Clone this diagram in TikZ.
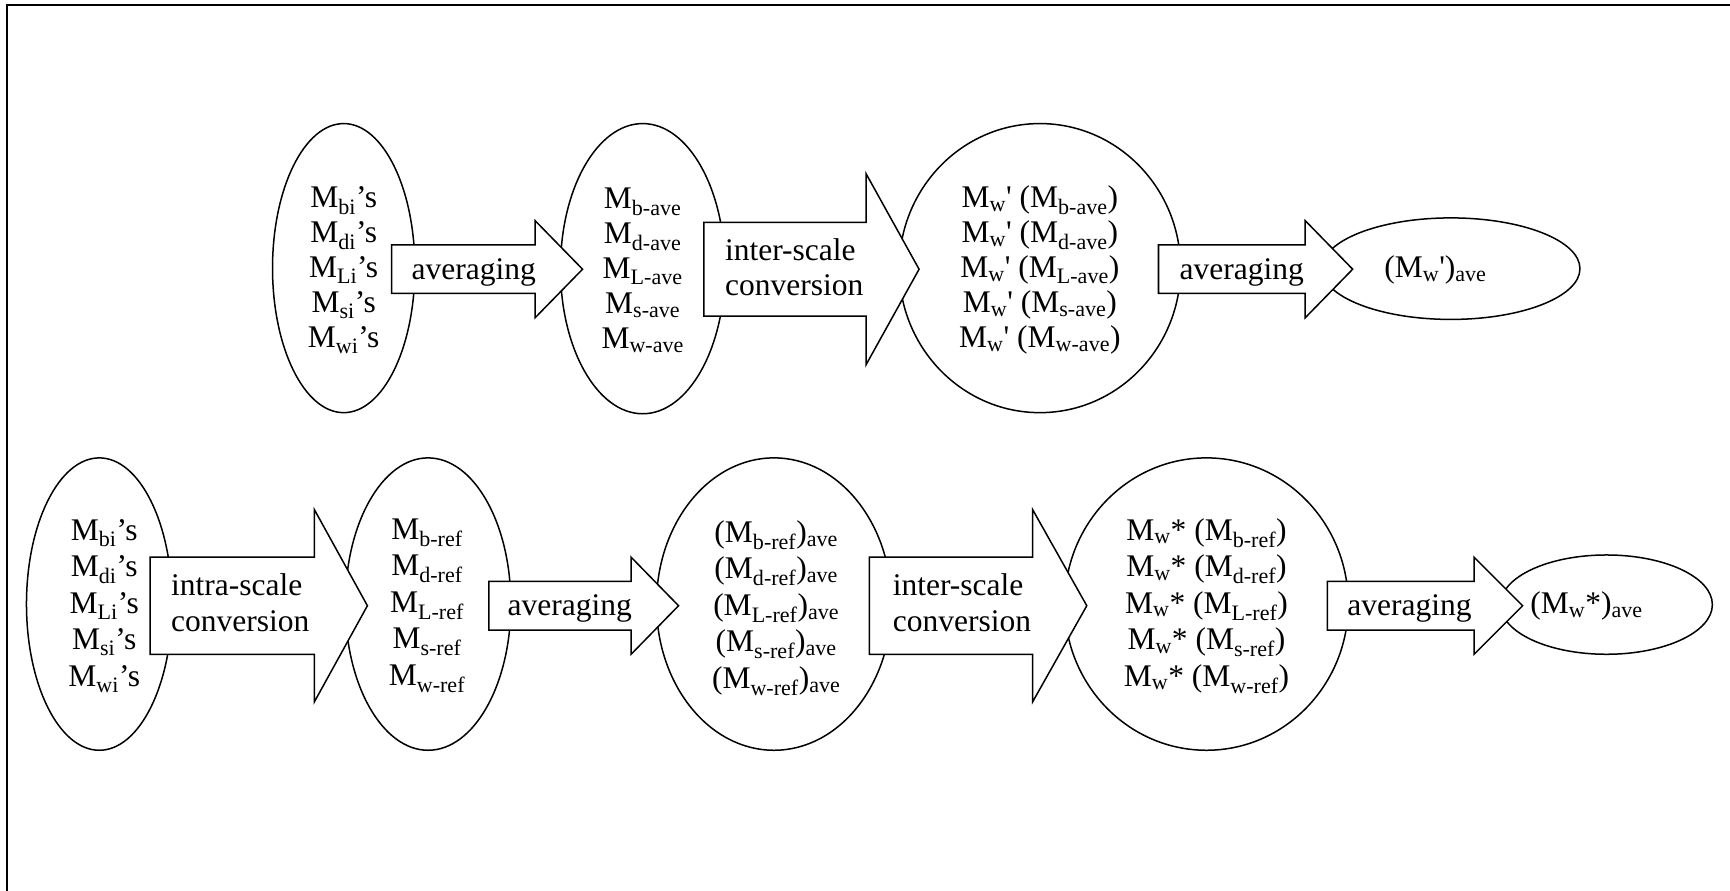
\documentclass[tikz,border=0pt]{standalone}
\usepackage{fontspec}
\setmainfont{Liberation Serif}
\usetikzlibrary{shapes.geometric}
\tikzset{
  ell/.style={ellipse, draw, line width=1.5pt, inner sep=0pt},
  barrow/.style={draw, fill=white, line width=1.5pt, line join=miter},
  toptxt/.style={inner sep=0pt, align=center, font=\fontsize{31.5}{35}\selectfont},
  bottxt/.style={inner sep=0pt, align=center, font=\fontsize{31.5}{36.5}\selectfont},
  lbltop/.style={anchor=west, inner sep=0pt, align=left, font=\fontsize{31.5}{35}\selectfont},
  lblbot/.style={anchor=west, inner sep=0pt, align=left, font=\fontsize{31.5}{36.5}\selectfont},
}
% #1 name, #2 x start, #3 head base x, #4 tip x, #5 y centre, #6 half body, #7 half head
\newcommand{\blockarrow}[7]{%
  \coordinate (#1-tip) at (#4,#5);
  \draw[barrow] (#2,#5-#6) -- (#3,#5-#6) -- (#3,#5-#7) -- (#1-tip)
     -- (#3,#5+#7) -- (#3,#5+#6) -- (#2,#5+#6) -- cycle;}
\newcommand{\sq}{\textquotesingle}
\begin{document}
\begin{tikzpicture}[x=1.1033pt, y=-1.1033pt]
\useasboundingbox (0,0) rectangle (1568,807);
\fill[white] (0,0) rectangle (1568,807);
% frame
\draw[line width=2pt] (6.6,810) -- (6.6,4.5) -- (1570,4.5);

% ellipses, top row
\node[ell, minimum width={129*1.1033pt}, minimum height={262*1.1033pt}] (E1) at (311.5,243) {};
\node[ell, minimum width={149*1.1033pt}, minimum height={263*1.1033pt}] (E2) at (582.5,243.5) {};
\node[ell, minimum width={255*1.1033pt}, minimum height={262*1.1033pt}] (E3) at (942.5,243) {};
\node[ell, minimum width={234*1.1033pt}, minimum height={92*1.1033pt}] (E4) at (1315,243.5) {};
% ellipses, bottom row
\node[ell, minimum width={132*1.1033pt}, minimum height={265*1.1033pt}] (E5) at (90,547.5) {};
\node[ell, minimum width={150*1.1033pt}, minimum height={265*1.1033pt}] (E6) at (388,547.5) {};
\node[ell, minimum width={213*1.1033pt}, minimum height={265*1.1033pt}] (E7) at (701.5,547.5) {};
\node[ell, minimum width={257*1.1033pt}, minimum height={265*1.1033pt}] (E8) at (1093.5,547.5) {};
\node[ell, minimum width={192*1.1033pt}, minimum height={90*1.1033pt}] (E9) at (1456,548) {};

% block arrows
\blockarrow{A1}{355}{485}{528}{244}{22}{44}
\blockarrow{A2}{638}{785}{833}{244}{42.5}{86.5}
\blockarrow{A3}{1050}{1183}{1226}{244}{22}{44}
\blockarrow{A4}{136}{285}{333}{549}{44}{87}
\blockarrow{A5}{443}{572}{615}{549}{22}{44}
\blockarrow{A6}{788}{936}{985}{549}{44}{87}
\blockarrow{A7}{1203}{1336}{1380}{549}{22}{44}

% arrow labels
\node[lbltop] (L1) at (373,246.5) {averaging};
\node[lbltop] (L2) at (657,242.5) {inter-scale\\conversion};
\node[lbltop] (L3) at (1069,246.5) {averaging};
\node[lblbot] (L4) at (155,546.5) {intra-scale\\conversion};
\node[lbltop] (L5) at (460,551.5) {averaging};
\node[lblbot] (L6) at (809,546.5) {inter-scale\\conversion};
\node[lbltop] (L7) at (1221,551.5) {averaging};

% ellipse texts
\node[toptxt] (T1) at (311.5,245) {M\textsubscript{bi}’s\\M\textsubscript{di}’s\\M\textsubscript{Li}’s\\M\textsubscript{si}’s\\M\textsubscript{wi}’s};
\node[toptxt] (T2) at (582.5,245) {M\textsubscript{b-ave}\\M\textsubscript{d-ave}\\M\textsubscript{L-ave}\\M\textsubscript{s-ave}\\M\textsubscript{w-ave}};
\node[toptxt] (T3) at (942.5,245) {M\textsubscript{w}\sq{} (M\textsubscript{b-ave})\\M\textsubscript{w}\sq{} (M\textsubscript{d-ave})\\M\textsubscript{w}\sq{} (M\textsubscript{L-ave})\\M\textsubscript{w}\sq{} (M\textsubscript{s-ave})\\M\textsubscript{w}\sq{} (M\textsubscript{w-ave})};
\node[toptxt] (T4) at (1301,245) {(M\textsubscript{w}\sq)\textsubscript{ave}};
\node[bottxt] (T5) at (94.5,549) {M\textsubscript{bi}’s\\M\textsubscript{di}’s\\M\textsubscript{Li}’s\\M\textsubscript{si}’s\\M\textsubscript{wi}’s};
\node[bottxt] (T6) at (387,549) {M\textsubscript{b-ref}\\M\textsubscript{d-ref}\\M\textsubscript{L-ref}\\M\textsubscript{s-ref}\\M\textsubscript{w-ref}};
\node[bottxt] (T7) at (703.5,551) {(M\textsubscript{b-ref})\textsubscript{ave}\\(M\textsubscript{d-ref})\textsubscript{ave}\\(M\textsubscript{L-ref})\textsubscript{ave}\\(M\textsubscript{s-ref})\textsubscript{ave}\\(M\textsubscript{w-ref})\textsubscript{ave}};
\node[bottxt] (T8) at (1093.5,549) {M\textsubscript{w}* (M\textsubscript{b-ref})\\M\textsubscript{w}* (M\textsubscript{d-ref})\\M\textsubscript{w}* (M\textsubscript{L-ref})\\M\textsubscript{w}* (M\textsubscript{s-ref})\\M\textsubscript{w}* (M\textsubscript{w-ref})};
\node[toptxt] (T9) at (1438,549) {(M\textsubscript{w}*)\textsubscript{ave}};
\end{tikzpicture}
\end{document}
